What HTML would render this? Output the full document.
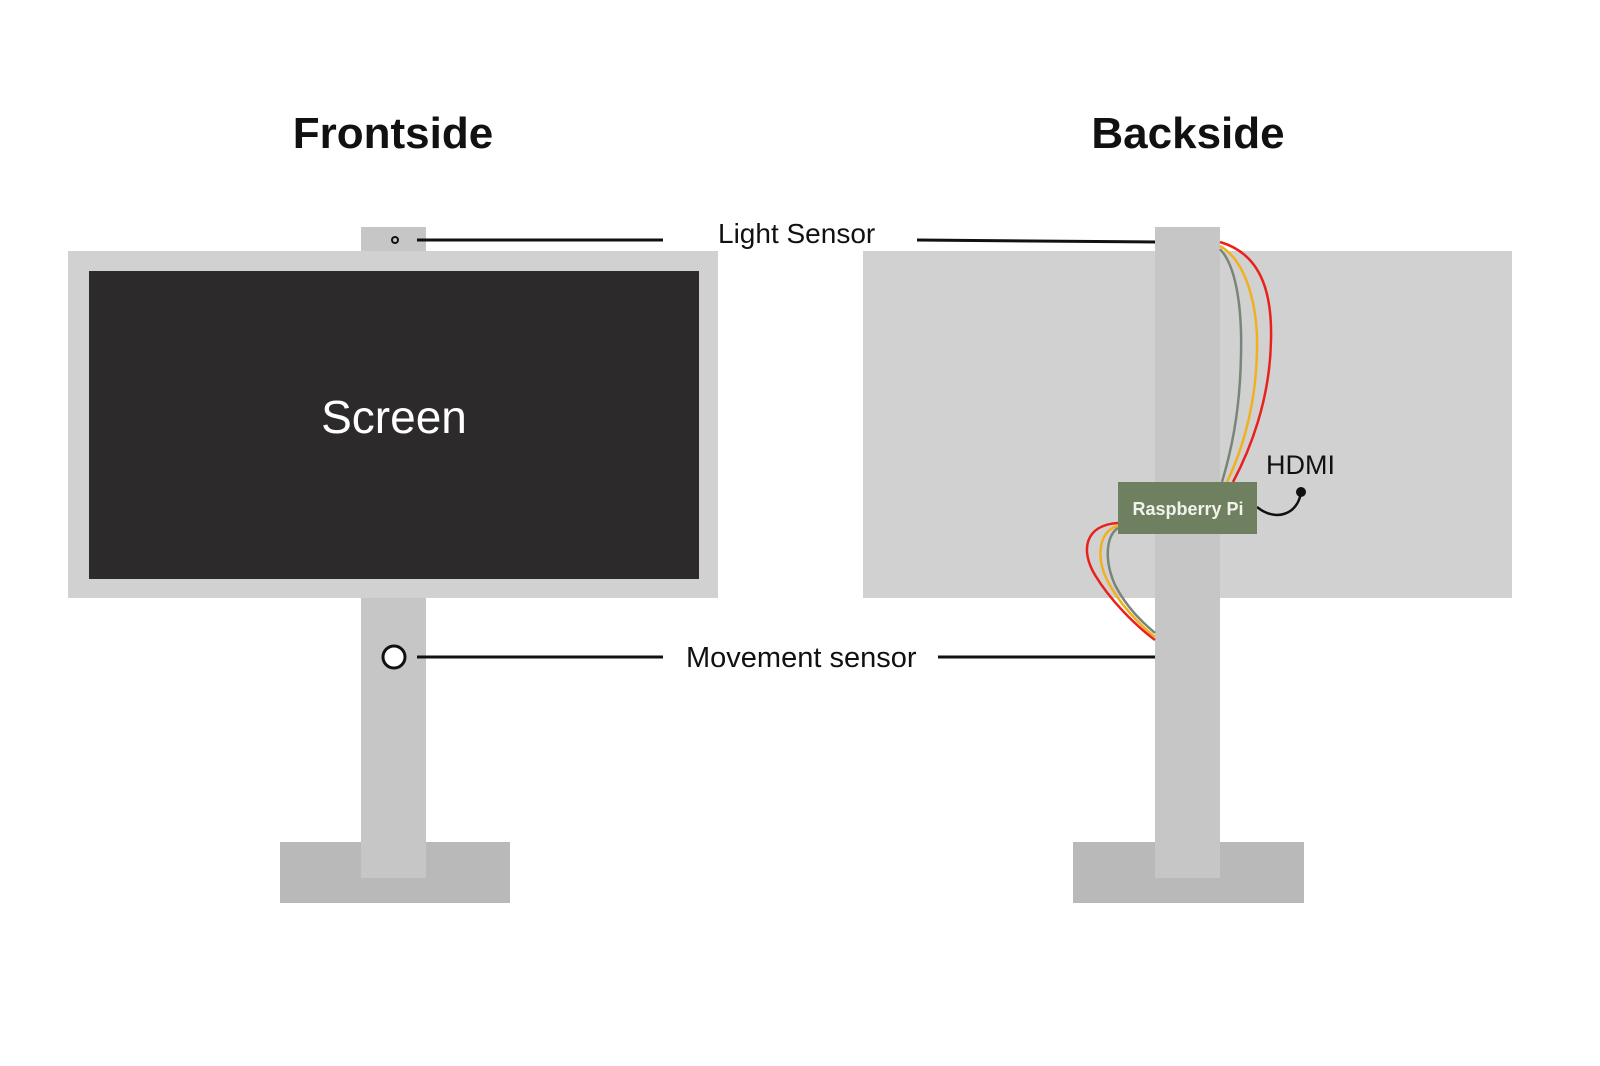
<!DOCTYPE html>
<html><head><style>
body{margin:0;width:1600px;height:1061px;background:#fff;overflow:hidden;font-family:"Liberation Sans",sans-serif}
</style></head><body>
<svg width="1600" height="1061" viewBox="0 0 1600 1061" xmlns="http://www.w3.org/2000/svg" font-family="Liberation Sans, sans-serif">
<rect width="1600" height="1061" fill="#fff"/>
<text x="393" y="148" font-size="44" font-weight="bold" text-anchor="middle" fill="#111">Frontside</text>
<text x="1188" y="148" font-size="44" font-weight="bold" text-anchor="middle" fill="#111">Backside</text>
<!-- front -->
<rect x="280" y="842" width="230" height="61" fill="#b9b9b9"/>
<rect x="361" y="227" width="65" height="651" fill="#c6c6c6"/>
<rect x="68" y="251" width="650" height="347" fill="#d1d1d1"/>
<rect x="89" y="271" width="610" height="308" fill="#2c2a2b"/>
<text x="394" y="433" font-size="46" text-anchor="middle" fill="#fff">Screen</text>
<circle cx="395" cy="240" r="3" fill="none" stroke="#111" stroke-width="2"/>
<circle cx="394" cy="657" r="11" fill="#fff" stroke="#111" stroke-width="3"/>
<line x1="417" y1="240" x2="663" y2="240" stroke="#111" stroke-width="3"/>
<line x1="417" y1="657" x2="663" y2="657" stroke="#111" stroke-width="3"/>
<text x="718" y="243" font-size="28" fill="#111">Light Sensor</text>
<text x="686" y="667" font-size="29" fill="#111">Movement sensor</text>
<line x1="917" y1="240" x2="1156" y2="242" stroke="#111" stroke-width="3"/>
<line x1="938" y1="657" x2="1156" y2="657" stroke="#111" stroke-width="3"/>
<!-- back -->
<rect x="1073" y="842" width="231" height="61" fill="#b9b9b9"/>
<rect x="863" y="251" width="649" height="347" fill="#d1d1d1"/>
<rect x="1155" y="227" width="65" height="651" fill="#c6c6c6"/>
<g fill="none" stroke-width="2.5">
<path d="M1220,242 C1265,255 1272,300 1271,340 C1270,400 1250,450 1233,482" stroke="#e8211c"/>
<path d="M1220,246 C1248,262 1258,310 1257,350 C1256,410 1240,455 1227,482" stroke="#f0b020"/>
<path d="M1220,249 C1238,268 1242,315 1241,355 C1240,415 1230,455 1222,482" stroke="#7a857a"/>
<path d="M1118,523 C1085,525 1080,550 1095,575 C1110,600 1135,625 1155,640" stroke="#e8211c"/>
<path d="M1118,526 C1100,530 1095,555 1107,580 C1120,605 1140,625 1155,637" stroke="#f0b020"/>
<path d="M1118,528 C1106,536 1104,560 1115,585 C1127,608 1142,622 1155,633" stroke="#7a857a"/>
<path d="M1257,507 C1275,522 1298,515 1301,492" stroke="#111"/>
</g>
<circle cx="1301" cy="492" r="5" fill="#111"/>
<rect x="1118" y="482" width="139" height="52" fill="#6f8060"/>
<text x="1188" y="515" font-size="18" font-weight="bold" text-anchor="middle" fill="#f2f2ec">Raspberry Pi</text>
<text x="1266" y="474" font-size="27" fill="#111">HDMI</text>
</svg>
</body></html>
